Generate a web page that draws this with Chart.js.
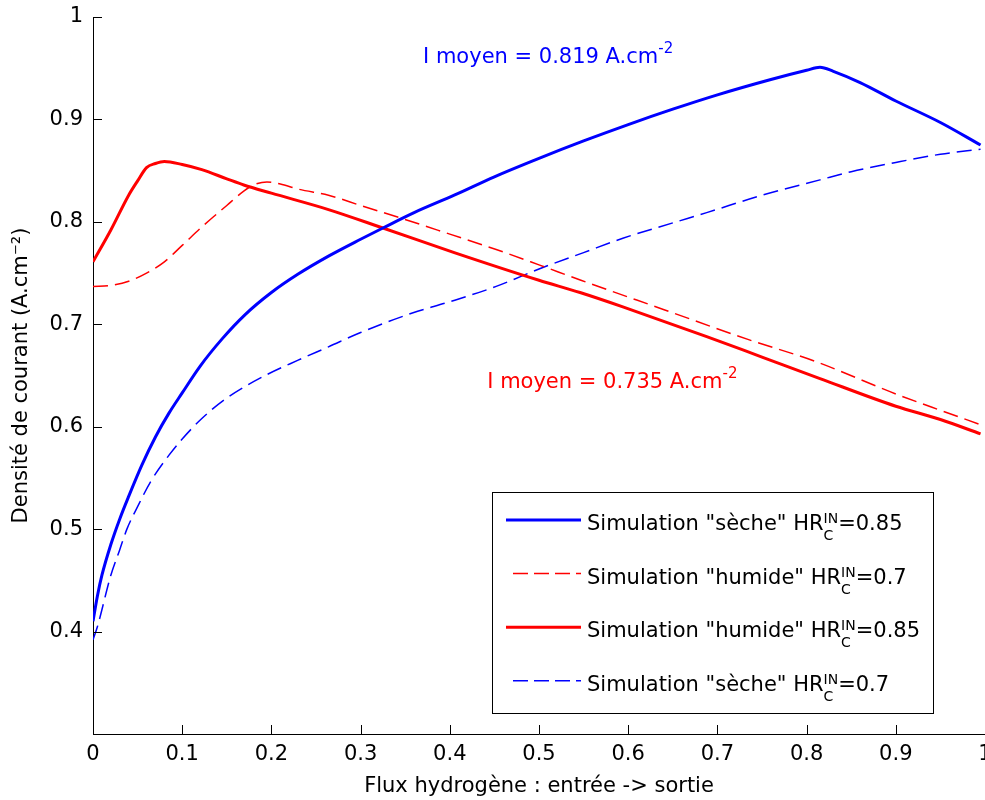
<!DOCTYPE html>
<html>
<head>
<meta charset="utf-8">
<script src="https://cdn.jsdelivr.net/npm/chart.js@4.4.1/dist/chart.umd.min.js"></script>
<style>
  html, body { margin: 0; padding: 0; background: #fff; }
  #wrap { width: 985px; height: 800px; }
</style>
</head>
<body>
<div id="wrap"><canvas id="myChart" width="985" height="800"></canvas></div>
<script>
// ---- data ----
const xTickValues = [0, 0.1, 0.2, 0.3, 0.4, 0.5, 0.6, 0.7, 0.8, 0.9, 1];
const xTickLabels = ['0', '0.1', '0.2', '0.3', '0.4', '0.5', '0.6', '0.7', '0.8', '0.9', '1'];
const yTickValues = [0.3, 0.4, 0.5, 0.6, 0.7, 0.8, 0.9, 1];
const yTickLabels = ['', '0.4', '0.5', '0.6', '0.7', '0.8', '0.9', '1'];

// Simulation "sèche" HR=0.85 (blue, solid)
const xSeche085 = [0, 0.005, 0.01, 0.02, 0.03, 0.04, 0.055, 0.07, 0.085, 0.1, 0.12, 0.145, 0.17, 0.2, 0.23, 0.265, 0.3, 0.325, 0.36, 0.405, 0.45, 0.5, 0.55, 0.6, 0.65, 0.7, 0.76, 0.8, 0.815, 0.83, 0.86, 0.9, 0.95, 0.995];
const ySeche085 = [0.41, 0.435, 0.455, 0.485, 0.51, 0.532, 0.563, 0.59, 0.613, 0.633, 0.659, 0.686, 0.709, 0.731, 0.749, 0.767, 0.783, 0.794, 0.809, 0.826, 0.844, 0.862, 0.879, 0.895, 0.91, 0.924, 0.939, 0.948, 0.951, 0.947, 0.936, 0.918, 0.897, 0.875];

// Simulation "humide" HR=0.7 (red, dashed)
const xHumide07 = [0, 0.02, 0.04, 0.06, 0.08, 0.1, 0.122, 0.15, 0.169, 0.18, 0.195, 0.21, 0.23, 0.264, 0.3, 0.344, 0.4, 0.452, 0.5, 0.547, 0.641, 0.735, 0.809, 0.9, 0.95, 0.995];
const yHumide07 = [0.737, 0.738, 0.742, 0.75, 0.761, 0.777, 0.795, 0.816, 0.83, 0.836, 0.839, 0.837, 0.832, 0.826, 0.816, 0.804, 0.788, 0.773, 0.758, 0.743, 0.714, 0.685, 0.664, 0.632, 0.616, 0.602];

// Simulation "humide" HR=0.85 (red, solid)
const xHumide085 = [0, 0.02, 0.04, 0.05, 0.06, 0.07, 0.08, 0.1, 0.122, 0.15, 0.169, 0.2, 0.264, 0.325, 0.405, 0.5, 0.546, 0.594, 0.688, 0.75, 0.815, 0.9, 0.95, 0.995];
const yHumide085 = [0.761, 0.792, 0.826, 0.84, 0.853, 0.857, 0.859, 0.856, 0.851, 0.842, 0.836, 0.828, 0.812, 0.794, 0.77, 0.743, 0.731, 0.717, 0.688, 0.668, 0.647, 0.62, 0.607, 0.593];

// Simulation "sèche" HR=0.7 (blue, dashed)
const xSeche07 = [0, 0.005, 0.02, 0.03, 0.038, 0.05, 0.065, 0.085, 0.1, 0.122, 0.15, 0.193, 0.23, 0.264, 0.3, 0.358, 0.4, 0.452, 0.5, 0.55, 0.594, 0.65, 0.688, 0.75, 0.815, 0.85, 0.9, 0.95, 0.995];
const ySeche07 = [0.392, 0.405, 0.455, 0.48, 0.5, 0.522, 0.547, 0.572, 0.588, 0.608, 0.628, 0.65, 0.665, 0.678, 0.692, 0.711, 0.722, 0.737, 0.754, 0.77, 0.784, 0.799, 0.809, 0.826, 0.841, 0.849, 0.858, 0.866, 0.871];

const FONT = '"DejaVu Sans", sans-serif';

function pts(xs, ys) {
    return xs.map((x, i) => ({ x: x, y: ys[i] }));
}

// text with sub/superscripts, drawn on the canvas
function drawRich(ctx, x, y, parts, color) {
    ctx.save();
    ctx.fillStyle = color;
    ctx.textAlign = 'left';
    ctx.textBaseline = 'alphabetic';
    parts.forEach(p => {
        if (p.sup !== undefined) {
            ctx.font = '14px ' + FONT;
            const w1 = ctx.measureText(p.sup).width;
            const w2 = ctx.measureText(p.sub).width;
            ctx.fillText(p.sup, x, y - 7);
            ctx.fillText(p.sub, x, y + 10);
            x += Math.max(w1, w2);
        } else {
            ctx.font = (p.size || 21) + 'px ' + FONT;
            ctx.fillText(p.t, x, y + (p.dy || 0));
            x += ctx.measureText(p.t).width;
        }
    });
    ctx.restore();
}

const legendItems = [
    { color: '#0000ff', width: 3, dash: [], parts: [{ t: 'Simulation "sèche" HR' }, { sup: 'IN', sub: 'C' }, { t: '=0.85' }] },
    { color: '#ff0000', width: 1.5, dash: [15, 6], parts: [{ t: 'Simulation "humide" HR' }, { sup: 'IN', sub: 'C' }, { t: '=0.7' }] },
    { color: '#ff0000', width: 3, dash: [], parts: [{ t: 'Simulation "humide" HR' }, { sup: 'IN', sub: 'C' }, { t: '=0.85' }] },
    { color: '#0000ff', width: 1.5, dash: [15, 6], parts: [{ t: 'Simulation "sèche" HR' }, { sup: 'IN', sub: 'C' }, { t: '=0.7' }] }
];

const extras = {
    id: 'extras',
    afterDraw(chart) {
        const ctx = chart.ctx;
        const xs = chart.scales.x, ys = chart.scales.y;
        const area = chart.chartArea;

        // inward tick marks
        ctx.save();
        ctx.strokeStyle = '#000';
        ctx.lineWidth = 1;
        ctx.beginPath();
        xs.ticks.forEach(t => {
            const px = Math.round(xs.getPixelForValue(t.value)) + 0.5;
            ctx.moveTo(px, area.bottom);
            ctx.lineTo(px, area.bottom - 9);
        });
        ys.ticks.forEach(t => {
            const py = Math.round(ys.getPixelForValue(t.value)) + 0.5;
            ctx.moveTo(area.left, py);
            ctx.lineTo(area.left + 9, py);
        });
        ctx.stroke();
        ctx.restore();

        // mean current annotations
        drawRich(ctx, xs.getPixelForValue(0.37), ys.getPixelForValue(0.955),
            [{ t: 'I moyen = 0.819 A.cm' }, { t: '-2', size: 15, dy: -10 }], '#0000ff');
        drawRich(ctx, xs.getPixelForValue(0.442), ys.getPixelForValue(0.638),
            [{ t: 'I moyen = 0.735 A.cm' }, { t: '-2', size: 15, dy: -10 }], '#ff0000');

        // legend box
        const bx = 492, by = 492, bw = 441, bh = 221;
        ctx.save();
        ctx.fillStyle = '#fff';
        ctx.fillRect(bx, by, bw, bh);
        ctx.strokeStyle = '#000';
        ctx.lineWidth = 1;
        ctx.strokeRect(bx + 0.5, by + 0.5, bw, bh);
        legendItems.forEach((it, i) => {
            const cy = 520 + i * 53.6;
            ctx.beginPath();
            ctx.strokeStyle = it.color;
            ctx.lineWidth = it.width;
            ctx.setLineDash(it.dash);
            ctx.moveTo(it.dash.length ? 513 : 506, cy);
            ctx.lineTo(581, cy);
            ctx.stroke();
            ctx.setLineDash([]);
            drawRich(ctx, 587, cy + 10, it.parts, '#000');
        });
        ctx.restore();
    }
};

const data = {
    datasets: [
        { label: 'sèche 0.85', data: pts(xSeche085, ySeche085), borderColor: '#0000ff', borderWidth: 3 },
        { label: 'humide 0.7', data: pts(xHumide07, yHumide07), borderColor: '#ff0000', borderWidth: 1.5, borderDash: [15, 7] },
        { label: 'humide 0.85', data: pts(xHumide085, yHumide085), borderColor: '#ff0000', borderWidth: 3 },
        { label: 'sèche 0.7', data: pts(xSeche07, ySeche07), borderColor: '#0000ff', borderWidth: 1.5, borderDash: [15, 7] }
    ]
};

const config = {
    type: 'line',
    data: data,
    options: {
        responsive: false,
        animation: false,
        devicePixelRatio: 1,
        elements: {
            point: { radius: 0 },
            line: { cubicInterpolationMode: 'monotone', fill: false }
        },
        layout: { padding: { top: 17, left: 0, right: 0, bottom: 0 } },
        plugins: {
            legend: { display: false },
            tooltip: { enabled: false }
        },
        scales: {
            x: {
                type: 'linear',
                min: 0,
                max: 1,
                grid: { drawOnChartArea: false, drawTicks: false },
                border: { color: '#000', width: 1 },
                afterBuildTicks: s => { s.ticks = xTickValues.map(v => ({ value: v })); },
                ticks: {
                    color: '#000',
                    font: { family: FONT, size: 21 },
                    padding: 8,
                    maxRotation: 0,
                    autoSkip: false,
                    callback: (v, i) => xTickLabels[i]
                },
                title: {
                    display: true,
                    text: 'Flux hydrogène : entrée -> sortie',
                    color: '#000',
                    font: { family: FONT, size: 21 },
                    padding: { top: 0, bottom: 1 }
                },
                afterFit: s => { s.height = 66; s.paddingLeft = 0; s.paddingRight = 0; }
            },
            y: {
                type: 'linear',
                min: 0.3,
                max: 1,
                grid: { drawOnChartArea: false, drawTicks: false },
                border: { color: '#000', width: 1 },
                afterBuildTicks: s => { s.ticks = yTickValues.map(v => ({ value: v })); },
                ticks: {
                    color: '#000',
                    font: { family: FONT, size: 21 },
                    padding: 10,
                    autoSkip: false,
                    callback: (v, i) => yTickLabels[i]
                },
                title: {
                    display: true,
                    text: 'Densité de courant (A.cm⁻²)',
                    color: '#000',
                    font: { family: FONT, size: 21 },
                    padding: { top: 9, bottom: 0 }
                },
                afterFit: s => { s.width = 93; s.paddingTop = 0; s.paddingBottom = 0; }
            }
        }
    },
    plugins: [extras]
};

const myChart = new Chart(document.getElementById('myChart'), config);
</script>
</body>
</html>
